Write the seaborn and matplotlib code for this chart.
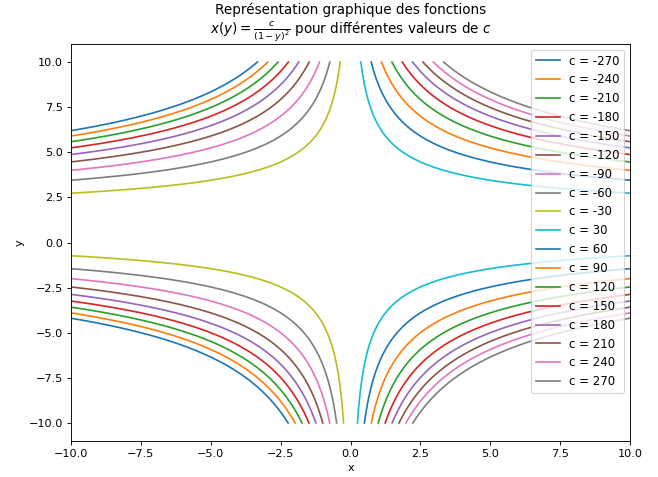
import numpy as np
import matplotlib
matplotlib.use("Agg")
import matplotlib.pyplot as plt
import seaborn as sns

# Parameter values c (one curve per value)
c_values = [-270, -240, -210, -180, -150, -120, -90, -60, -30,
            30, 60, 90, 120, 150, 180, 210, 240, 270]
legend_labels = [f"c = {c}" for c in c_values]

x_limits = [-10, 10]
y_range = [-10, 10]

W = 8.1
DPI = 658 / W
fig, ax = plt.subplots(figsize=(W, 477 / DPI), dpi=DPI)
palette = plt.rcParams['axes.prop_cycle'].by_key()['color']

y = np.linspace(y_range[0], y_range[1], 400)
for i, (c, lab) in enumerate(zip(c_values, legend_labels)):
    x = c / (1 - y) ** 2
    sns.lineplot(x=x, y=y, sort=False, estimator=None, ax=ax,
                 color=palette[i % len(palette)], label=lab)

ax.set_xlim(x_limits)
ax.set_xlabel("x")
ax.set_ylabel("y")
ax.set_title("Représentation graphique des fonctions\n"
             r"$x(y) = \frac{c}{(1-y)^2}$ pour différentes valeurs de $c$",
             pad=7)
ax.legend(loc="upper right", fontsize=10.4)
fig.subplots_adjust(left=71 / 658, right=630 / 658, top=1 - 44 / 477, bottom=1 - 441 / 477)
fig.savefig("out.png", dpi=DPI)
